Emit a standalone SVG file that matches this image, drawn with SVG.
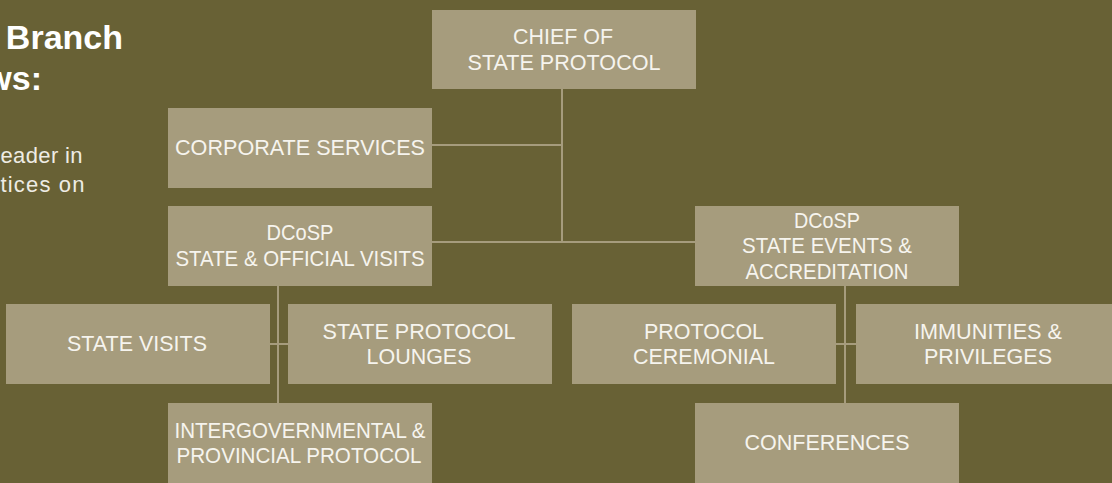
<svg xmlns="http://www.w3.org/2000/svg" width="1112" height="483" viewBox="0 0 1112 483">
  <style>
    .bg { fill: #686135; }
    .box { fill: #a69c7d; }
    .lbl { font-family: "Liberation Sans", Arial, sans-serif; font-size: 22px; fill: #f6f4ee; text-anchor: middle; }
    .link { stroke: #a69c7d; stroke-width: 2; fill: none; }
    .head { font-family: "Liberation Sans", Arial, sans-serif; font-size: 34px; font-weight: bold; fill: #ffffff; }
    .body { font-family: "Liberation Sans", Arial, sans-serif; font-size: 22px; fill: #eeece4; }
  </style>

  <rect class="bg" x="0" y="0" width="1112" height="483"/>

  <!-- slide text at the left edge -->
  <g id="intro">
    <text class="head" x="123" y="49" text-anchor="end">Branch</text>
    <text class="head" x="42" y="90" text-anchor="end">ws:</text>
    <text class="body" x="0.5" y="163" textLength="82">eader in</text>
    <text class="body" x="0.5" y="192" textLength="84">tices on</text>
  </g>

  <!-- connectors -->
  <g id="connectors">
    <path class="link" d="M562 89 V242"/>
    <path class="link" d="M432 145 H562"/>
    <path class="link" d="M432 242 H695"/>
    <path class="link" d="M278 286 V403"/>
    <path class="link" d="M270 344 H288"/>
    <path class="link" d="M845 286 V403"/>
    <path class="link" d="M836 344 H856"/>
  </g>

  <g id="chief">
    <rect class="box" x="432" y="10" width="264" height="79"/>
    <text class="lbl" x="563" y="44" textLength="100" lengthAdjust="spacingAndGlyphs">CHIEF OF</text>
    <text class="lbl" x="564" y="70" textLength="193" lengthAdjust="spacingAndGlyphs">STATE PROTOCOL</text>
  </g>

  <g id="corporate-services">
    <rect class="box" x="168" y="108" width="264" height="80"/>
    <text class="lbl" x="300" y="155" textLength="250" lengthAdjust="spacingAndGlyphs">CORPORATE SERVICES</text>
  </g>

  <g id="dcosp-visits">
    <rect class="box" x="168" y="206" width="264" height="80"/>
    <text class="lbl" x="300" y="240" textLength="67" lengthAdjust="spacingAndGlyphs">DCoSP</text>
    <text class="lbl" x="300" y="266" textLength="249" lengthAdjust="spacingAndGlyphs">STATE &amp; OFFICIAL VISITS</text>
  </g>

  <g id="dcosp-events">
    <rect class="box" x="695" y="206" width="264" height="80"/>
    <text class="lbl" x="827" y="228" textLength="66" lengthAdjust="spacingAndGlyphs">DCoSP</text>
    <text class="lbl" x="827" y="253" textLength="170" lengthAdjust="spacingAndGlyphs">STATE EVENTS &amp;</text>
    <text class="lbl" x="827" y="279" textLength="163" lengthAdjust="spacingAndGlyphs">ACCREDITATION</text>
  </g>

  <g id="state-visits">
    <rect class="box" x="6" y="304" width="264" height="80"/>
    <text class="lbl" x="137" y="351" textLength="140" lengthAdjust="spacingAndGlyphs">STATE VISITS</text>
  </g>

  <g id="lounges">
    <rect class="box" x="288" y="304" width="264" height="80"/>
    <text class="lbl" x="419" y="338.5" textLength="193" lengthAdjust="spacingAndGlyphs">STATE PROTOCOL</text>
    <text class="lbl" x="419" y="364" textLength="105" lengthAdjust="spacingAndGlyphs">LOUNGES</text>
  </g>

  <g id="intergovernmental">
    <rect class="box" x="168" y="403" width="264" height="80"/>
    <text class="lbl" x="300" y="437.5" textLength="251" lengthAdjust="spacingAndGlyphs">INTERGOVERNMENTAL &amp;</text>
    <text class="lbl" x="299" y="463" textLength="245" lengthAdjust="spacingAndGlyphs">PROVINCIAL PROTOCOL</text>
  </g>

  <g id="ceremonial">
    <rect class="box" x="572" y="304" width="264" height="80"/>
    <text class="lbl" x="704" y="338.5" textLength="120" lengthAdjust="spacingAndGlyphs">PROTOCOL</text>
    <text class="lbl" x="704" y="364" textLength="142" lengthAdjust="spacingAndGlyphs">CEREMONIAL</text>
  </g>

  <g id="immunities">
    <rect class="box" x="856" y="304" width="264" height="80"/>
    <text class="lbl" x="988" y="338.5" textLength="148" lengthAdjust="spacingAndGlyphs">IMMUNITIES &amp;</text>
    <text class="lbl" x="988" y="364" textLength="128" lengthAdjust="spacingAndGlyphs">PRIVILEGES</text>
  </g>

  <g id="conferences">
    <rect class="box" x="695" y="403" width="264" height="80"/>
    <text class="lbl" x="827" y="450" textLength="165" lengthAdjust="spacingAndGlyphs">CONFERENCES</text>
  </g>
</svg>
